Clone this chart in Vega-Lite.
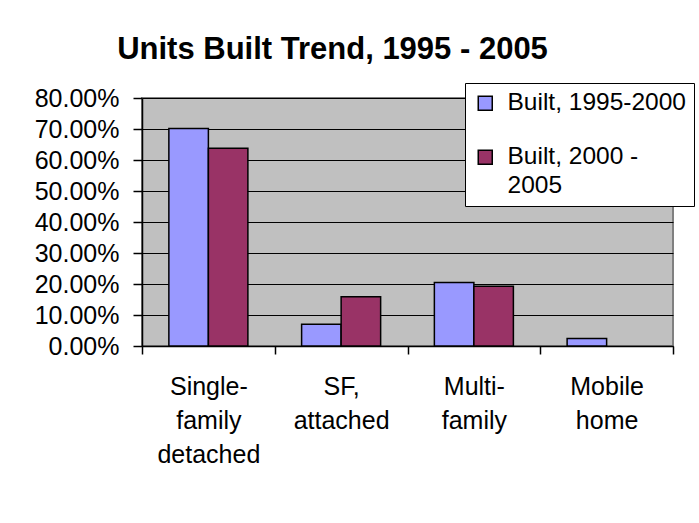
{
  "$schema": "https://vega.github.io/schema/vega-lite/v6.json",
  "width": 531,
  "height": 248,
  "autosize": {"type": "none"},
  "padding": {"left": 142, "top": 98, "right": 26, "bottom": 177},
  "background": "white",
  "title": {
    "text": "Units Built Trend, 1995 - 2005",
    "font": "Liberation Sans",
    "fontSize": 31,
    "fontWeight": "bold",
    "color": "black",
    "anchor": "middle",
    "dx": -75,
    "dy": 33,
    "baseline": "alphabetic",
    "offset": 26
  },
  "data": {
    "values": [
      {"type": "Single-family detached", "period": "Built, 1995-2000", "share": 0.702},
      {"type": "Single-family detached", "period": "Built, 2000 - 2005", "share": 0.638},
      {"type": "SF, attached", "period": "Built, 1995-2000", "share": 0.070},
      {"type": "SF, attached", "period": "Built, 2000 - 2005", "share": 0.159},
      {"type": "Multi-family", "period": "Built, 1995-2000", "share": 0.205},
      {"type": "Multi-family", "period": "Built, 2000 - 2005", "share": 0.193},
      {"type": "Mobile home", "period": "Built, 1995-2000", "share": 0.024}
    ]
  },
  "mark": {"type": "bar", "stroke": "black", "strokeWidth": 1.5},
  "encoding": {
    "x": {
      "field": "type",
      "type": "nominal",
      "sort": ["Single-family detached", "SF, attached", "Multi-family", "Mobile home"],
      "scale": {"paddingInner": 0, "paddingOuter": 0},
      "axis": {
        "title": null,
        "labelAngle": 0,
        "tickBand": "extent",
        "tickSize": 8,
        "tickColor": "black",
        "domainColor": "black",
        "grid": false,
        "labelBaseline": "top",
        "labelPadding": 20,
        "labelLineHeight": 34,
        "labelFontSize": 25,
        "labelFont": "Liberation Sans",
        "labelColor": "black",
        "labelExpr": "datum.value == 'Single-family detached' ? ['Single-', 'family', 'detached'] : datum.value == 'SF, attached' ? ['SF,', 'attached'] : datum.value == 'Multi-family' ? ['Multi-', 'family'] : datum.value == 'Mobile home' ? ['Mobile', 'home'] : ''"
      }
    },
    "xOffset": {
      "field": "period",
      "type": "nominal",
      "sort": ["Built, 1995-2000", "Built, 2000 - 2005"],
      "scale": {"paddingInner": 0, "paddingOuter": 0.68}
    },
    "y": {
      "field": "share",
      "type": "quantitative",
      "scale": {"domain": [0, 0.8], "nice": false},
      "axis": {
        "title": null,
        "format": ".2%",
        "values": [0, 0.1, 0.2, 0.3, 0.4, 0.5, 0.6, 0.7, 0.8],
        "grid": true,
        "gridColor": "black",
        "gridOpacity": 1,
        "domainColor": "black",
        "tickColor": "black",
        "tickSize": 9,
        "labelPadding": 14,
        "labelFontSize": 25,
        "labelFont": "Liberation Sans",
        "labelColor": "black"
      }
    },
    "color": {
      "field": "period",
      "type": "nominal",
      "sort": ["Built, 1995-2000", "Built, 2000 - 2005"],
      "scale": {"range": ["#9999FF", "#993366"]},
      "legend": {
        "title": null,
        "orient": "none",
        "legendX": 323,
        "legendY": -15,
        "fillColor": "white",
        "strokeColor": "black",
        "padding": 8,
        "symbolType": "square",
        "symbolSize": 196,
        "symbolStrokeColor": "black",
        "symbolStrokeWidth": 1.5,
        "symbolOpacity": 1,
        "labelOffset": 10,
        "labelFontSize": 24.5,
        "labelFont": "Liberation Sans",
        "labelColor": "black",
        "labelLimit": 400,
        "rowPadding": 29,
        "labelExpr": "datum.label == 'Built, 2000 - 2005' ? ['Built, 2000 -', '2005'] : datum.label",
        "encode": {
          "labels": {
            "update": {
              "lineHeight": {"value": 29}
            }
          }
        }
      }
    }
  },
  "config": {
    "view": {"fill": "#C0C0C0", "stroke": "#808080", "strokeWidth": 2},
    "axis": {"domainWidth": 1.5, "tickWidth": 1.5}
  }
}
